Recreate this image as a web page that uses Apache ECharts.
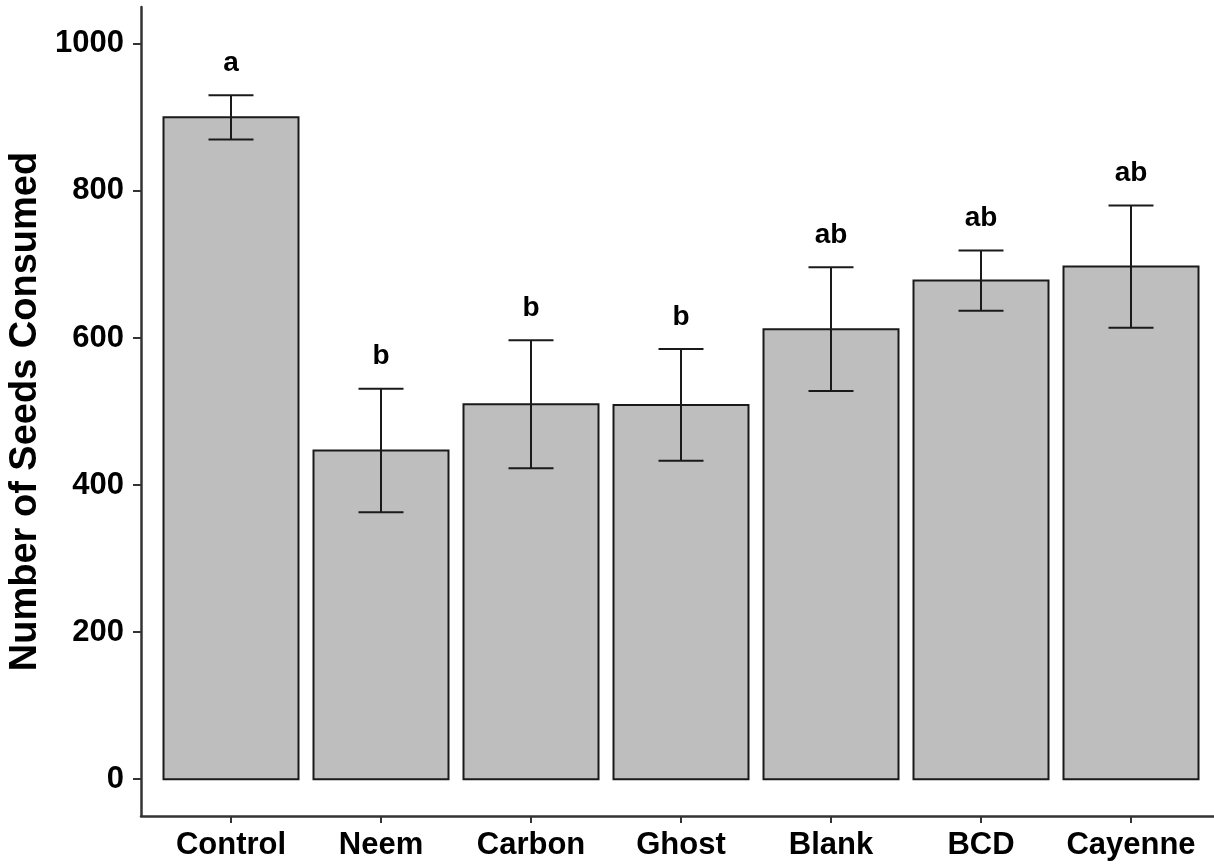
<!DOCTYPE html>
<html>
<head>
<meta charset="utf-8">
<script src="https://cdn.jsdelivr.net/npm/echarts@6/dist/echarts.min.js"></script>
<style>
  html, body { margin: 0; padding: 0; background: #fff; }
  #chart { width: 1214px; height: 867px; }
</style>
</head>
<body>
<div id="chart"></div>
<script>
// 数据
var categories = ['Control', 'Neem', 'Carbon', 'Ghost', 'Blank', 'BCD', 'Cayenne'];
var means = [900, 447, 510, 509, 612, 678, 697];
var errors = [30, 84, 87, 76, 84, 41, 83];
var letters = ['a', 'b', 'b', 'b', 'ab', 'ab', 'ab'];
var yTicks = [0, 200, 400, 600, 800, 1000];

var font = '"Liberation Sans", Arial, sans-serif';
var positions = categories.map(function (c, i) { return i + 1; });

var myChart = echarts.init(document.getElementById('chart'));

myChart.setOption({
  animation: false,
  grid: { left: 141, right: -7, top: 7, height: 809, outerBoundsMode: 'none', containLabel: false },
  xAxis: {
    type: 'value',
    min: 0.4,
    max: 7.6,
    splitLine: { show: false },
    axisLine: { onZero: false, lineStyle: { color: '#333', width: 2.5 } },
    axisTick: { customValues: positions, length: 7, lineStyle: { color: '#333', width: 2 } },
    axisLabel: {
      customValues: positions,
      formatter: function (v) { return categories[Math.round(v) - 1]; },
      color: '#000',
      fontFamily: font,
      fontWeight: 'bold',
      fontSize: 31,
      margin: 14
    }
  },
  yAxis: {
    type: 'value',
    min: -50,
    max: 1050,
    name: 'Number of Seeds Consumed',
    nameLocation: 'middle',
    nameGap: 85,
    nameTextStyle: { color: '#000', fontFamily: font, fontWeight: 'bold', fontSize: 38 },
    splitLine: { show: false },
    axisLine: { show: true, onZero: false, lineStyle: { color: '#333', width: 2.5 } },
    axisTick: { show: true, customValues: yTicks, length: 8, lineStyle: { color: '#333', width: 2 } },
    axisLabel: {
      customValues: yTicks,
      formatter: function (v) { return String(v); },
      color: '#000',
      fontFamily: font,
      fontWeight: 'bold',
      fontSize: 31,
      margin: 17
    }
  },
  series: [
    {
      type: 'custom',
      data: means.map(function (m, i) { return [i + 1, m, errors[i]]; }),
      encode: { x: 0, y: [1] },
      clip: false,
      renderItem: function (params, api) {
        var x = api.value(0);
        var m = api.value(1);
        var e = api.value(2);
        var i = params.dataIndex;
        var band = api.size([1, 0])[0];
        var base = api.coord([x, 0]);
        var top = api.coord([x, m]);
        var hi = api.coord([x, m + e]);
        var lo = api.coord([x, m - e]);
        var bw = band * 0.9;
        var cw = band * 0.3;
        var ls = { stroke: '#1a1a1a', lineWidth: 2 };
        return {
          type: 'group',
          children: [
            {
              type: 'rect',
              shape: { x: top[0] - bw / 2, y: top[1], width: bw, height: base[1] - top[1] },
              style: { fill: '#BEBEBE', stroke: '#1a1a1a', lineWidth: 2 }
            },
            { type: 'line', shape: { x1: hi[0], y1: hi[1], x2: lo[0], y2: lo[1] }, style: ls },
            { type: 'line', shape: { x1: hi[0] - cw / 2, y1: hi[1], x2: hi[0] + cw / 2, y2: hi[1] }, style: ls },
            { type: 'line', shape: { x1: lo[0] - cw / 2, y1: lo[1], x2: lo[0] + cw / 2, y2: lo[1] }, style: ls },
            {
              type: 'text',
              x: hi[0],
              y: hi[1] - 32,
              style: {
                text: letters[i],
                fill: '#000',
                font: 'bold 28px ' + font,
                align: 'center',
                verticalAlign: 'middle'
              }
            }
          ]
        };
      }
    }
  ]
});
</script>
</body>
</html>
